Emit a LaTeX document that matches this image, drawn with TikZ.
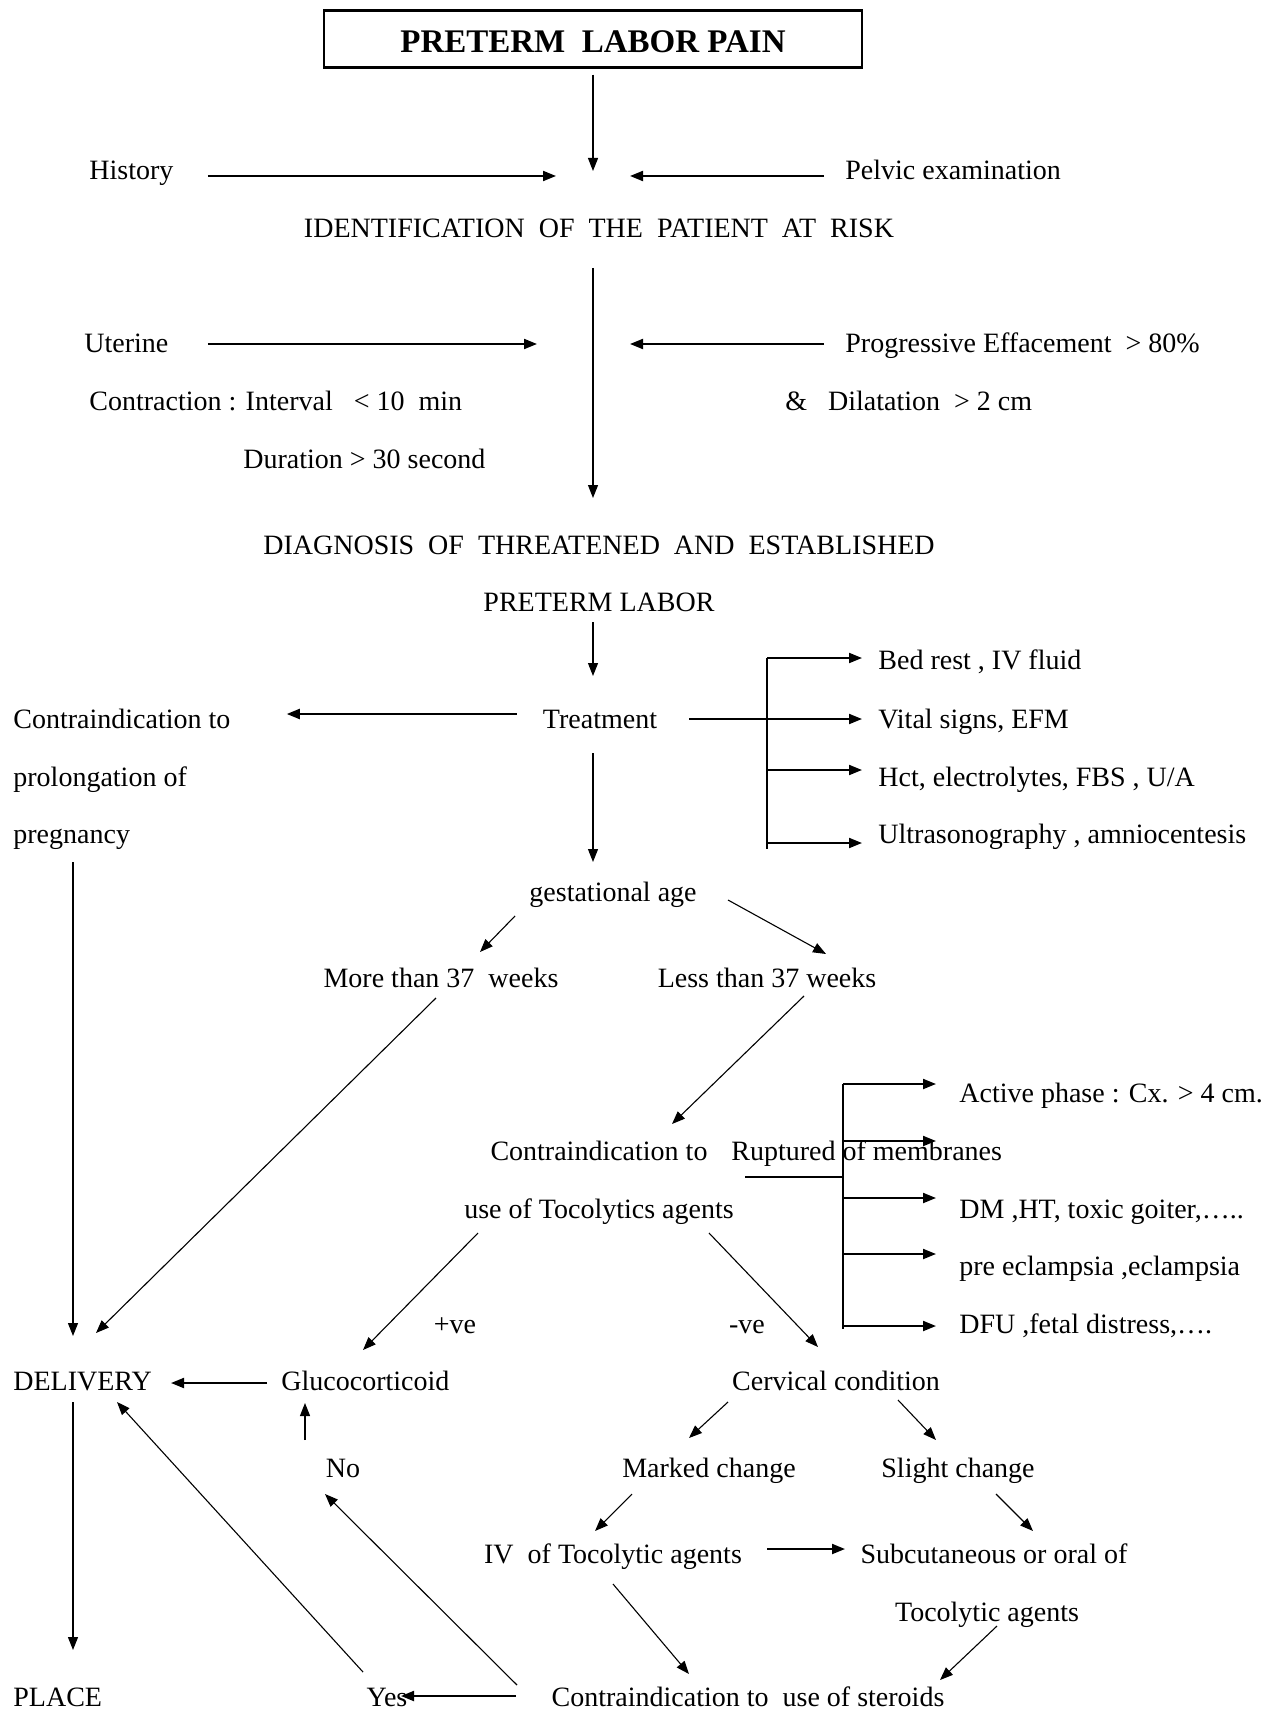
\documentclass[tikz,border=0pt]{standalone}
\usepackage{fontspec}
\setmainfont{Liberation Serif}
\usetikzlibrary{arrows.meta,calc}
\begin{document}
\begin{tikzpicture}[x=0.5pt,y=-0.5pt,
  txt/.style={inner sep=0pt,font=\fontsize{14}{17}\selectfont,text height=13pt,text depth=3pt},
  thin/.style={line width=0.55pt},
  thick/.style={line width=1pt},
  arr/.style={thin,-{Triangle[length=6.5pt,width=5pt]}},
  harr/.style={thick,-{Triangle[length=6.5pt,width=5pt]}}]
\useasboundingbox[fill=white] (0,0) rectangle (1273,1711);
% nodes
\node[draw,line width=1.2pt,minimum width=269pt,minimum height=28.5pt,inner sep=0pt,text height=14pt,text depth=0pt,font=\fontsize{16.5}{19}\selectfont\bfseries] (title) at (593,39) {PRETERM\ \ LABOR PAIN};
\node[txt,anchor=west] (hist) at (89,170) {History};
\node[txt,anchor=west] (pelvic) at (845,170) {Pelvic examination};
\node[txt] (ident) at (599,228) {IDENTIFICATION\ \ OF\ \ THE\ \ PATIENT\ \ AT\ \ RISK};
\node[txt,anchor=west] (uter) at (84,343) {Uterine};
\node[txt,anchor=west] (prog) at (845,343) {Progressive Effacement\ \ > 80\%};
\node[txt,anchor=west] (contr) at (89,401) {Contraction : Interval\ \ \ < 10\ \ min};
\node[txt,anchor=west] (dil) at (785,401) {\&\ \ \ Dilatation\ \ > 2 cm};
\node[txt,anchor=west] (dur) at (243,458) {Duration > 30 second};
\node[txt] (diag1) at (599,544) {DIAGNOSIS\ \ OF\ \ THREATENED\ \ AND\ \ ESTABLISHED};
\node[txt] (diag2) at (599,601) {PRETERM LABOR};
\node[txt] (treat) at (600,718) {Treatment};
\node[txt,anchor=west] (cpro1) at (13,718) {Contraindication to};
\node[txt,anchor=west] (cpro2) at (13,776) {prolongation of};
\node[txt,anchor=west] (cpro3) at (13,833) {pregnancy};
\node[txt,anchor=west] (bed) at (878,659) {Bed rest , IV fluid};
\node[txt,anchor=west] (vital) at (878,718) {Vital signs, EFM};
\node[txt,anchor=west] (hct) at (878,776) {Hct, electrolytes, FBS , U/A};
\node[txt,anchor=west] (ultra) at (878,833) {Ultrasonography , amniocentesis};
\node[txt] (gest) at (613,891) {gestational age};
\node[txt] (more) at (441,977) {More than 37\ \ weeks};
\node[txt] (less) at (767,977) {Less than 37 weeks};
\node[txt] (ctoc1) at (599,1150) {Contraindication to};
\node[txt,anchor=west] (rupt) at (731,1150) {Ruptured of membranes};
\node[txt] (ctoc2) at (599,1208) {use of Tocolytics agents};
\node[txt,anchor=west] (active) at (959,1092) {Active phase : Cx. > 4 cm.};
\node[txt,anchor=west] (dm) at (959,1208) {DM ,HT, toxic goiter,…..};
\node[txt,anchor=west] (pre) at (959,1265) {pre eclampsia ,eclampsia};
\node[txt,anchor=west] (dfu) at (959,1323) {DFU ,fetal distress,….};
\node[txt] (plus) at (455,1323) {+ve};
\node[txt] (minus) at (747,1323) {-ve};
\node[txt,anchor=west] (deliv) at (13,1380) {DELIVERY};
\node[txt,anchor=west] (gluco) at (281,1380) {Glucocorticoid};
\node[txt] (cerv) at (836,1380) {Cervical condition};
\node[txt] (marked) at (709,1467) {Marked change};
\node[txt] (slight) at (958,1467) {Slight change};
\node[txt] (no) at (343,1467) {No};
\node[txt] (iv) at (613,1553) {IV\ \ of Tocolytic agents};
\node[txt] (sub) at (994,1553) {Subcutaneous or oral of};
\node[txt] (toco) at (987,1611) {Tocolytic agents};
\node[txt,anchor=west] (place) at (13,1696) {PLACE};
\node[txt] (yes) at (387,1696) {Yes};
\node[txt] (cster) at (748,1696) {Contraindication to\ \ use of steroids};
% junction coordinates
\coordinate (m1) at (593,176);
\coordinate (m2) at (593,344);
\coordinate (b1) at (767,719);
\coordinate (b2) at (843,1177);
% connectors top
\draw[arr] ([shift={(0,6)}]title.south) -- ([shift={(0,-5)}]m1);
\draw[harr] ([shift={(34,6)}]hist.east) -- ([shift={(-37,0)}]m1);
\draw[harr] ([shift={(-21,6)}]pelvic.west) -- ([shift={(37,0)}]m1);
\draw[arr] ([shift={(-6,40)}]ident.center) -- (m2) -- ([shift={(-6,-46)}]diag1.center);
\draw[harr] ([shift={(39,1)}]uter.east) -- ([shift={(-56,0)}]m2);
\draw[harr] ([shift={(-21,1)}]prog.west) -- ([shift={(37,0)}]m2);
% treatment
\draw[arr] ([shift={(-6,21)}]diag2.center) -- ([shift={(-7,-42)}]treat.center);
\draw[harr] ([shift={(-26,-4)}]treat.west) -- ([shift={(56,-4)}]cpro1.east);
\draw[harr] ([shift={(32,1)}]treat.east) -- (b1) -- ([shift={(-16,1)}]vital.west);
\draw[thin] ([shift={(-111,-1)}]bed.west) -- ([shift={(-111,16)}]ultra.west);
\draw[harr] ([shift={(-111,-1)}]bed.west) -- ([shift={(-16,-1)}]bed.west);
\draw[harr] ([shift={(-111,-6)}]hct.west) -- ([shift={(-16,-6)}]hct.west);
\draw[harr] ([shift={(-111,10)}]ultra.west) -- ([shift={(-16,10)}]ultra.west);
\draw[arr] ([shift={(-7,35)}]treat.center) -- ([shift={(-20,-29)}]gest.center);
% gestational age
\draw[arr] ([shift={(-98,25)}]gest.center) -- ([shift={(39,-25)}]more.center);
\draw[arr] ([shift={(115,9)}]gest.center) -- ([shift={(59,-23)}]less.center);
\draw[arr] ([shift={(-5,21)}]more.center) -- ([shift={(83,-47)}]deliv.west);
\draw[arr] ([shift={(60,29)}]cpro3.west) -- ([shift={(60,-44)}]deliv.west);
\draw[arr] ([shift={(37,19)}]less.center) -- ([shift={(73,-26)}]ctoc1.center);
% contraindications to tocolytics
\draw[thick] ([shift={(146,27)}]ctoc1.center) -- (b2);
\draw[thin] ([shift={(-116,-8)}]active.west) -- ([shift={(-116,6)}]dfu.west);
\draw[harr] ([shift={(-116,-8)}]active.west) -- ([shift={(-23,-8)}]active.west);
\draw[harr] ([shift={(112,-9)}]rupt.west) -- ([shift={(205,-9)}]rupt.west);
\draw[harr] ([shift={(-116,-10)}]dm.west) -- ([shift={(-23,-10)}]dm.west);
\draw[harr] ([shift={(-116,-11)}]pre.west) -- ([shift={(-23,-11)}]pre.west);
\draw[harr] ([shift={(-116,3)}]dfu.west) -- ([shift={(-23,3)}]dfu.west);
\draw[arr] ([shift={(-121,25)}]ctoc2.center) -- ([shift={(82,-30)}]gluco.west);
\draw[arr] ([shift={(110,25)}]ctoc2.center) -- ([shift={(-18,-33)}]cerv.center);
% lower part
\draw[harr] ([shift={(-14,3)}]gluco.west) -- ([shift={(158,3)}]deliv.west);
\draw[arr] ([shift={(60,22)}]deliv.west) -- ([shift={(60,-46)}]place.west);
\draw[arr] ([shift={(-108,22)}]cerv.center) -- ([shift={(-20,-29)}]marked.center);
\draw[arr] ([shift={(62,20)}]cerv.center) -- ([shift={(-22,-27)}]slight.center);
\draw[arr] ([shift={(-38,-27)}]no.center) -- ([shift={(24,23)}]gluco.west);
\draw[arr] ([shift={(-77,27)}]marked.center) -- ([shift={(-18,-22)}]iv.center);
\draw[arr] ([shift={(38,27)}]slight.center) -- ([shift={(39,-22)}]sub.center);
\draw[harr] ([shift={(154,-4)}]iv.center) -- ([shift={(-149,-4)}]sub.center);
\draw[arr] ([shift={(0,31)}]iv.center) -- ([shift={(-59,-22)}]cster.center);
\draw[arr] ([shift={(10,15)}]toco.center) -- ([shift={(192,-16)}]cster.center);
\draw[harr] ([shift={(-232,0)}]cster.center) -- ([shift={(14,0)}]yes.center);
\draw[arr] ([shift={(-231,-11)}]cster.center) -- ([shift={(-18,27)}]no.center);
\draw[arr] ([shift={(-24,-24)}]yes.center) -- ([shift={(104,22)}]deliv.west);
\end{tikzpicture}
\end{document}
